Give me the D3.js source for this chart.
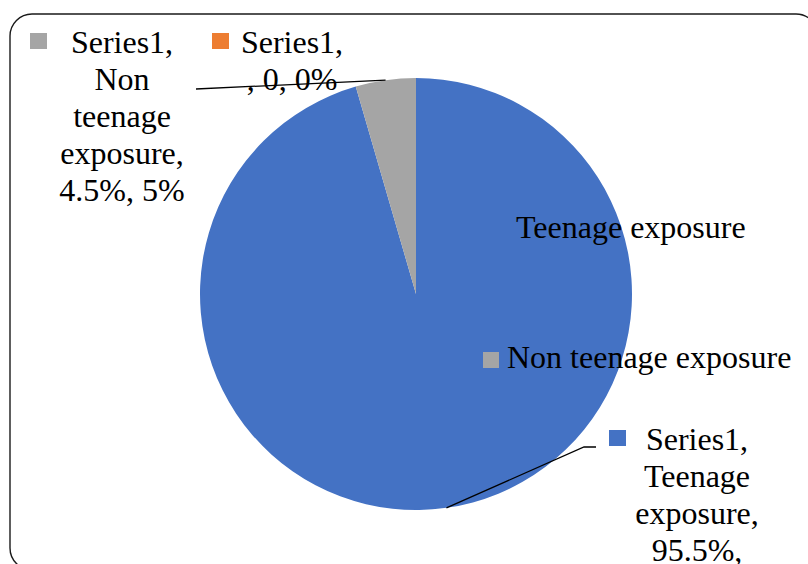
<!DOCTYPE html>
<html>
<head>
<meta charset="utf-8">
<script src="https://cdn.jsdelivr.net/npm/d3@7"></script>
<style>
  html, body { margin: 0; padding: 0; background: #fff; }
  svg { display: block; }
  text { font-family: "Liberation Serif", "Times New Roman", serif; fill: #000; }
</style>
</head>
<body>
<svg id="chart" width="808" height="564"></svg>
<script>
// Exposure split (Series1)
const categories = ["Teenage exposure", "Non teenage exposure", ""];
const values = [95.5, 4.5, 0];
const colors = ["#4472C4", "#A5A5A5", "#ED7D31"];
// data label text, one line per row
const labelLines = [
  ["Series1,", "Teenage", "exposure,", "95.5%,"],
  ["Series1,", "Non", "teenage", "exposure,", "4.5%, 5%"],
  ["Series1,", ", 0, 0%"]
];
const legendItems = ["Teenage exposure", "Non teenage exposure"];

const svg = d3.select("#chart");
const fontSize = 32, lineH = 37;

// chart frame (rounded, runs past the visible area on the right and bottom)
svg.append("rect")
  .attr("x", 10).attr("y", 14)
  .attr("width", 808).attr("height", 556)
  .attr("rx", 22).attr("ry", 22)
  .attr("fill", "#fff").attr("stroke", "#1a1a1a").attr("stroke-width", 1.4);

const cx = 416, cy = 294, R = 216;
const pie = d3.pie().sort(null).value(d => d)(values);
const arc = d3.arc().innerRadius(0).outerRadius(R);

const g = svg.append("g").attr("transform", `translate(${cx},${cy})`);
g.selectAll("path.slice")
  .data(pie)
  .join("path")
  .attr("class", "slice")
  .attr("d", arc)
  .attr("fill", (d, i) => colors[i]);

// point on the rim at the middle of a slice
function rimPoint(d) {
  const a = (d.startAngle + d.endAngle) / 2;
  return [cx + R * Math.sin(a), cy - R * Math.cos(a)];
}

// legend (the blue key sits on top of the pie)
const legend = svg.append("g");
const legendPos = [
  { mx: 483, my: 222, tx: 516, ty: 238 },
  { mx: 483, my: 352, tx: 507, ty: 368 }
];
legendItems.forEach((name, i) => {
  const p = legendPos[i];
  legend.append("rect").attr("x", p.mx).attr("y", p.my)
    .attr("width", 16).attr("height", 16).attr("fill", colors[i]);
  legend.append("text").attr("x", p.tx).attr("y", p.ty)
    .attr("font-size", fontSize).text(name);
});

// data labels with leader lines
const labelPos = [
  { cx: 697, y0: 450, mx: 609, my: 430, leader: [[584, 447], [596, 447]] },
  { cx: 122, y0: 53, mx: 30, my: 33, leader: [[196, 89]] },
  { cx: 292, y0: 53, mx: 212, my: 33, leader: null }
];

pie.forEach((d, i) => {
  const p = labelPos[i];
  const lab = svg.append("g");
  lab.append("rect").attr("x", p.mx).attr("y", p.my)
    .attr("width", 17).attr("height", 16).attr("fill", colors[i]);
  labelLines[i].forEach((line, k) => {
    lab.append("text")
      .attr("x", p.cx).attr("y", p.y0 + k * lineH)
      .attr("text-anchor", "middle")
      .attr("font-size", fontSize)
      .text(line);
  });
  if (p.leader) {
    const pts = [rimPoint(d), ...p.leader];
    svg.append("path")
      .attr("d", d3.line()(pts))
      .attr("fill", "none").attr("stroke", "#000").attr("stroke-width", 1.3);
  }
});
</script>
</body>
</html>
